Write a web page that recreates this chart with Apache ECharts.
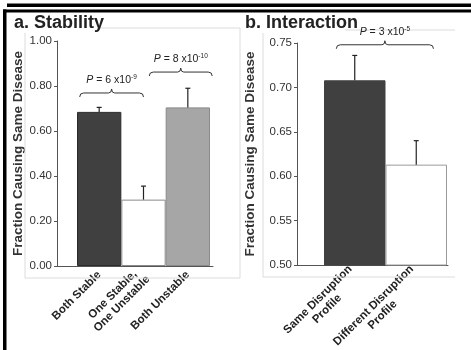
<!DOCTYPE html>
<html>
<head>
<meta charset="utf-8">
<script src="https://cdn.jsdelivr.net/npm/echarts@6/dist/echarts.min.js"></script>
<style>
  html, body { margin: 0; padding: 0; background: #fff; }
  #main { width: 471px; height: 350px; }
</style>
</head>
<body>
<div id="main"></div>
<script>
// panel a: stability
var stabCats = ['Both Stable', 'One Stable,\nOne Unstable', 'Both Unstable'];
var stabVals = [0.685, 0.295, 0.705];
var stabErr = [0.705, 0.355, 0.79];   // top of error bar
var stabTicks = [0, 0.2, 0.4, 0.6, 0.8, 1.0];

// panel b: interaction
var interCats = ['Same Disruption\nProfile', 'Different Disruption\nProfile'];
var interVals = [0.708, 0.613];
var interErr = [0.736, 0.640];
var interTicks = [0.5, 0.55, 0.6, 0.65, 0.7, 0.75];

var pLabels = ['6 x10{s|-9}', '8 x10{s|-10}', '3 x10{s|-5}'];

var myChart = echarts.init(document.getElementById('main'));

var FONT = '"Liberation Sans", Arial, sans-serif';
var stabFill = ['#404040', '#ffffff', '#a6a6a6'];
var stabBorder = ['#2a2a2a', '#8a8a8a', '#8a8a8a'];
var interFill = ['#404040', '#ffffff'];
var interBorder = ['#404040', '#9a9a9a'];

function frameYAxis(gi, ticks, gap) {
    return {
        type: 'value', gridIndex: gi,
        min: ticks[0], max: ticks[ticks.length - 1],
        interval: ticks[1] - ticks[0],
        name: 'Fraction Causing Same Disease',
        nameLocation: 'middle',
        nameGap: gap,
        nameTextStyle: { fontFamily: FONT, fontWeight: 'bold', fontSize: 13.5, color: '#333' },
        axisLine: { show: true, lineStyle: { color: '#555', width: 1 } },
        axisTick: { show: true, length: 3, lineStyle: { color: '#555' } },
        splitLine: { show: false },
        axisLabel: {
            fontFamily: FONT, fontSize: 11.5, color: '#333', margin: 5,
            formatter: function (v) { return v.toFixed(2); }
        }
    };
}
function frameXAxis(gi) {
    return {
        type: 'category', gridIndex: gi, data: [''],
        axisLine: { show: true, lineStyle: { color: '#555', width: 1 } },
        axisTick: { show: false }, axisLabel: { show: false }
    };
}
function barXAxis(gi, cats) {
    var lbl = { fontFamily: FONT, fontWeight: 'bold', fontSize: 11.5, color: '#222', lineHeight: 13, align: 'center' };
    return {
        type: 'category', gridIndex: gi, data: cats,
        axisLine: { show: false }, axisTick: { show: false },
        axisLabel: {
            interval: 0, rotate: 45, margin: 7,
            fontFamily: FONT, fontWeight: 'bold', fontSize: 11.5, color: '#222',
            lineHeight: 13,
            formatter: function (v) {
                return v.split('\n').map(function (s) { return '{c|' + s + '}'; }).join('\n');
            },
            rich: { c: lbl }
        }
    };
}
function barYAxis(gi, ticks) {
    return {
        type: 'value', gridIndex: gi, show: false,
        min: ticks[0], max: ticks[ticks.length - 1]
    };
}
function errSeries(xi, tops, vals) {
    return {
        type: 'custom', xAxisIndex: xi, yAxisIndex: xi, z: 5,
        data: tops.map(function (t, i) { return [i, vals[i], t]; }),
        renderItem: function (params, api) {
            var b = api.coord([api.value(0), api.value(1)]);
            var t = api.coord([api.value(0), api.value(2)]);
            var st = { stroke: '#222', lineWidth: 1.2 };
            return {
                type: 'group', children: [
                    { type: 'line', shape: { x1: b[0], y1: b[1], x2: t[0], y2: t[1] }, style: st },
                    { type: 'line', shape: { x1: t[0] - 2.5, y1: t[1], x2: t[0] + 2.5, y2: t[1] }, style: st }
                ]
            };
        }
    };
}

option = {
    backgroundColor: '#fff',
    animation: false,
    grid: [
        { left: 57, top: 41, width: 156, height: 225, outerBoundsMode: 'none' },
        { left: 77, top: 41, width: 133, height: 225, outerBoundsMode: 'none' },
        { left: 297, top: 43, width: 151, height: 222, outerBoundsMode: 'none' },
        { left: 324, top: 43, width: 123, height: 222, outerBoundsMode: 'none' }
    ],
    xAxis: [frameXAxis(0), barXAxis(1, stabCats), frameXAxis(2), barXAxis(3, interCats)],
    yAxis: [frameYAxis(0, stabTicks, 31), barYAxis(1, stabTicks), frameYAxis(2, interTicks, 40), barYAxis(3, interTicks)],
    series: [{
        name: 'Stability', type: 'bar', xAxisIndex: 1, yAxisIndex: 1,
        barCategoryGap: 0,
        data: stabVals.map(function (v, i) {
            return { value: v, itemStyle: { color: stabFill[i], borderColor: stabBorder[i], borderWidth: 1 } };
        })
    },
    errSeries(1, stabErr, stabVals),
    {
        name: 'Interaction', type: 'bar', xAxisIndex: 3, yAxisIndex: 3,
        barCategoryGap: 0,
        data: interVals.map(function (v, i) {
            return { value: v, itemStyle: { color: interFill[i], borderColor: interBorder[i], borderWidth: 1 } };
        })
    },
    errSeries(3, interErr, interVals)
    ]
};

myChart.setOption(option);

// braces with p-values: [grid x index, from cat, from offset (band frac), to cat, to offset, y value]
var braces = [
    [1, 0, -0.44, 1, 0.0, 0.769],
    [1, 1, 0.13, 2, 0.55, 0.862],
    [3, 0, -0.3, 1, 0.28, 0.748]
];
var braceStyle = { stroke: '#333', lineWidth: 1, fill: null };
function braceParts(x1, x2, y) {
    var xm = (x1 + x2) / 2;
    function q(ax, ay, cx, cy, bx, by) {
        return { type: 'bezierCurve', z: 10, shape: { x1: ax, y1: ay, cpx1: cx, cpy1: cy, x2: bx, y2: by }, style: braceStyle };
    }
    function ln(ax, ay, bx, by) {
        return { type: 'line', z: 10, shape: { x1: ax, y1: ay, x2: bx, y2: by }, style: braceStyle };
    }
    return [
        q(x1, y + 4, x1, y, x1 + 4, y),
        ln(x1 + 4, y, xm - 3, y),
        q(xm - 3, y, xm, y, xm, y - 4),
        q(xm, y - 4, xm, y, xm + 3, y),
        ln(xm + 3, y, x2 - 4, y),
        q(x2 - 4, y, x2, y, x2, y + 4)
    ];
}
var g = [];
braces.forEach(function (b, k) {
    var xi = b[0];
    var c0 = myChart.convertToPixel({ xAxisIndex: xi, yAxisIndex: xi }, [0, 0]);
    var c1 = myChart.convertToPixel({ xAxisIndex: xi, yAxisIndex: xi }, [1, 0]);
    var w = c1[0] - c0[0];
    var pa = myChart.convertToPixel({ xAxisIndex: xi, yAxisIndex: xi }, [b[1], b[5]]);
    var pb = myChart.convertToPixel({ xAxisIndex: xi, yAxisIndex: xi }, [b[3], b[5]]);
    var x1 = pa[0] + b[2] * w, x2 = pb[0] + b[4] * w, y = pa[1];
    g = g.concat(braceParts(x1, x2, y));
    g.push({
        type: 'text', x: (x1 + x2) / 2, y: y - 7, z: 10,
        style: {
            text: '{i|P} = ' + pLabels[k],
            align: 'center', verticalAlign: 'bottom',
            fontFamily: FONT, fontSize: 10.5, fill: '#222',
            rich: {
                i: { fontFamily: FONT, fontStyle: 'italic', fontSize: 10.5, fill: '#222' },
                s: { fontFamily: FONT, fontSize: 6.5, fill: '#222', verticalAlign: 'top', padding: [0, 0, 5, 0] }
            }
        }
    });
});
// panel frames and black border lines
var thin = { stroke: '#dcdcdc', lineWidth: 1 };
[
    [25, 33, 25, 278], [25, 278, 240, 278], [240, 28, 240, 278], [100, 28, 240, 28],
    [263, 33, 263, 277], [263, 277, 455, 277], [345, 30, 455, 30]
].forEach(function (l) {
    g.push({ type: 'line', shape: { x1: l[0], y1: l[1], x2: l[2], y2: l[3] }, style: thin, z: 1 });
});
g.push({ type: 'rect', shape: { x: 7, y: 3.5, width: 464, height: 3.5 }, style: { fill: '#000' }, z: 20 });
g.push({ type: 'rect', shape: { x: 3, y: 9.5, width: 468, height: 3 }, style: { fill: '#000' }, z: 20 });
g.push({ type: 'rect', shape: { x: 3, y: 9.5, width: 3.5, height: 341 }, style: { fill: '#000' }, z: 20 });
g.push({
    type: 'text', x: 14, y: 32, z: 10,
    style: { text: 'a. Stability', fontFamily: FONT, fontWeight: 'bold', fontSize: 18, fill: '#222', verticalAlign: 'bottom' }
});
g.push({
    type: 'text', x: 245, y: 32, z: 10,
    style: { text: 'b. Interaction', fontFamily: FONT, fontWeight: 'bold', fontSize: 18, fill: '#222', verticalAlign: 'bottom' }
});
myChart.setOption({ graphic: g });
</script>
</body>
</html>
